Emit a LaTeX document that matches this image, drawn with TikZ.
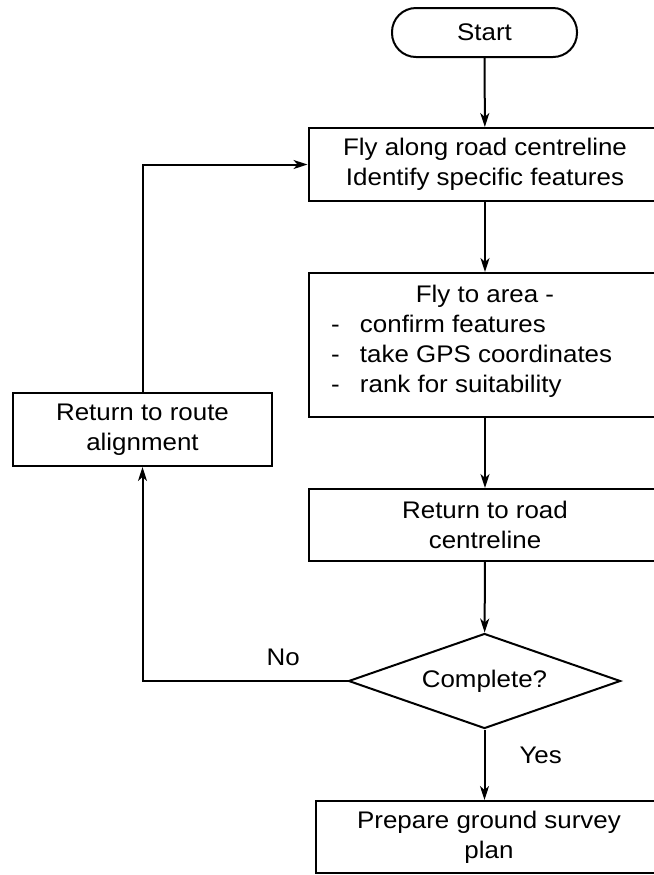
\documentclass[tikz,border=0pt]{standalone}
\usepackage{fontspec}
\setmainfont{Liberation Sans}[FakeStretch=1.08]
\usetikzlibrary{arrows.meta,shapes.geometric}
\newcommand{\areaitem}[1]{\makebox[176pt][l]{\hspace*{11pt}\makebox[14.5pt][l]{-}#1}}

\begin{document}
\begin{tikzpicture}[x=0.5pt, y=-0.5pt]
        \useasboundingbox (0,0) rectangle (654,875);
        \clip (0,0) rectangle (654,875);
        \begin{scope}[every node/.style={draw, line width=1pt, align=center, inner sep=0pt, font=\fontsize{12}{15}\selectfont}]
            \node [rounded corners=12pt, minimum width=92.5pt, minimum height=24.5pt] (start) at (484.5,32.5) {Start};
            \node [minimum width=176.5pt, minimum height=36.5pt] (fly) at (485,164.5) {Fly along road centreline\\Identify specific features};
            \node [minimum width=176pt, minimum height=72pt, text depth=6.5pt] (area) at (485,345) {Fly to area -\\\areaitem{confirm features}\\\areaitem{take GPS coordinates}\\\areaitem{rank for suitability}};
            \node [minimum width=129.5pt, minimum height=36.5pt] (route) at (142.5,429.5) {Return to route\\alignment};
            \node [minimum width=176pt, minimum height=36pt] (road) at (485,525) {Return to road\\centreline};
            \node [diamond, aspect=2.86, minimum width=136pt, minimum height=47.5pt] (check) at (484.5,681) {Complete?};
            \node [minimum width=173pt, minimum height=36pt] (plan) at (489,837) {Prepare ground survey\\plan};
        \end{scope}
        \begin{scope}[every node/.style={inner sep=0pt, font=\fontsize{12}{15}\selectfont}, every path/.style={line width=1pt, ->, >={Stealth[length=7pt, width=4.5pt, inset=2pt]}}]
            \path (start) edge (fly);
            \path (fly) edge (area);
            \path (area) edge (road);
            \path (road) edge (check);
            \path (check) edge node [pos=0.37, right=17pt] {Yes} (check |- plan.north);
            \draw (check.west) -| node [pos=0.157, above=7pt] {No} (route.south);
            \draw (route.north) |- (fly.west);
        \end{scope}
    \end{tikzpicture}
\end{document}
